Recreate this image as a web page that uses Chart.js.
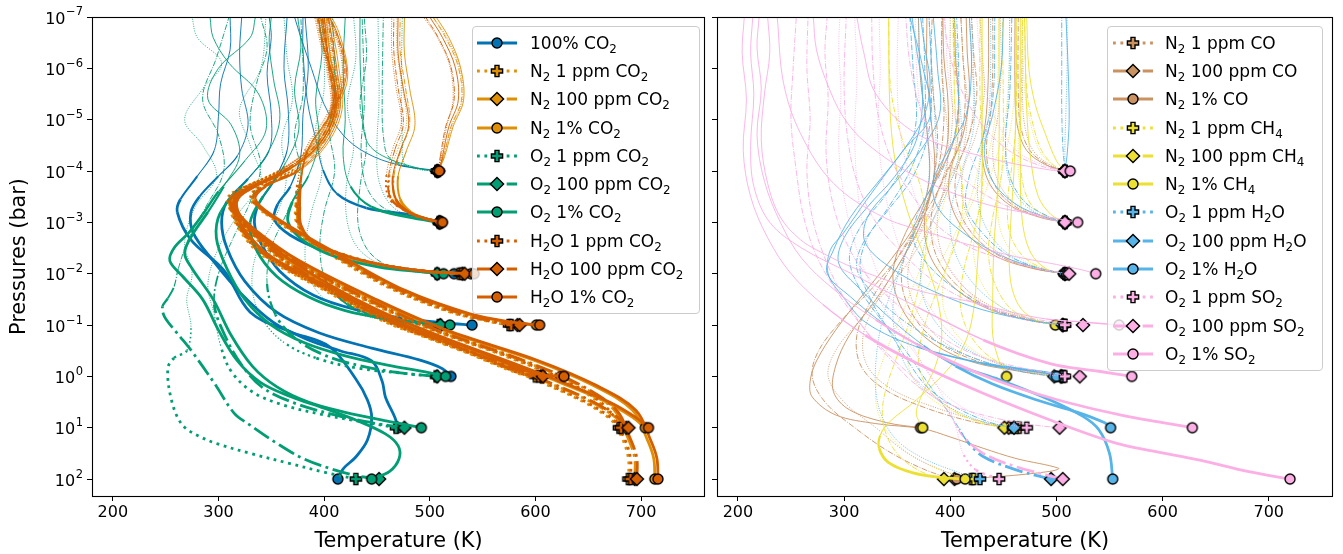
<!DOCTYPE html>
<html>
<head>
<meta charset="utf-8">
<script src="https://cdn.jsdelivr.net/npm/chart.js@4.4.0/dist/chart.umd.min.js"></script>
<style>
  body { margin: 0; background: #fff; width: 1343px; height: 554px; overflow: hidden; position: relative; font-family: "DejaVu Sans", sans-serif; }
  canvas.panel { position: absolute; top: 0; }
  #left { left: 0; }
  #right { left: 711px; }
  .legend { position: absolute; top: 26px; background: rgba(255,255,255,0.8); border: 1px solid #cccccc; border-radius: 4px;
            padding: 1.5px 0; font-size: 17px; color: #000; box-sizing: border-box; }
  .legend .row { height: 28.3px; display: flex; align-items: center; white-space: nowrap; }
  .legend canvas { flex: none; }
  .legend sub { font-size: 70%; vertical-align: -0.3em; line-height: 0; }
</style>
</head>
<body>
<canvas id="left" class="panel" width="711" height="554"></canvas>
<canvas id="right" class="panel" width="632" height="554"></canvas>
<div id="leg1" class="legend" style="left:472px; width:228px;"></div>
<div id="leg2" class="legend" style="left:1107px; width:216px;"></div>
<script>
/**** Temperature / pressure profiles ****/
// every profile: list of [temperature (K), log10 pressure (bar)], starting at the surface

const xTicks = [200, 300, 400, 500, 600, 700];
const yTickExp = [-7, -6, -5, -4, -3, -2, -1, 0, 1, 2];

/** left panel **/
const co2_100 = [
  [[413,2],[418,1.8],[430,1.57],[441,1.24],[445,0.8],[441,0.46],[430,0.05],[405,-0.58],[368,-0.87],[330,-1.25],[305,-2.07],[274,-2.66],[261,-3.2],[264,-3.45],[280,-3.9],[296,-4.4],[300,-5.06],[302,-5.7],[311,-6.36],[311,-7]],
  [[470,1],[467,0.8],[458,0.4],[455,0.1],[445,-0.3],[415,-0.5],[384,-0.72],[352,-1.05],[322,-1.6],[295,-2.25],[276,-2.8],[274,-3.2],[282,-3.5],[300,-3.9],[318,-4.3],[328,-4.9],[322,-5.6],[320,-6.3],[322,-7]],
  [[520,0],[512,-0.15],[490,-0.32],[445,-0.55],[395,-0.85],[355,-1.25],[325,-1.85],[308,-2.5],[303,-3.0],[308,-3.4],[328,-3.85],[348,-4.4],[350,-5.1],[346,-5.9],[350,-6.6],[348,-7]],
  [[540,-1],[515,-1.04],[475,-1.13],[430,-1.3],[390,-1.58],[358,-2.05],[340,-2.6],[334,-3.0],[338,-3.35],[352,-3.8],[365,-4.4],[366,-5.2],[362,-6],[365,-7]],
  [[523,-2],[490,-2.06],[445,-2.2],[400,-2.45],[368,-2.75],[353,-3.05],[356,-3.35],[368,-3.7],[378,-4.3],[380,-5.1],[385,-6],[382,-7]],
  [[510,-3],[480,-3.15],[440,-3.28],[412,-3.56],[399,-4.02],[393,-4.54],[384,-5.38],[380,-6.36],[380,-7]],
  [[508,-4],[470,-4.12],[440,-4.35],[418,-4.7],[400,-5.3],[388,-6],[378,-6.6],[372,-7]]
];
const n2_1ppm = [
  [[688,2],[688,1.6],[682,1.2],[666,0.62],[630,0.12],[576,-0.36],[496,-0.95],[432,-1.55],[361,-2.33],[326,-2.9],[311,-3.25],[309,-3.5],[325,-3.7],[357,-4.0],[387,-4.45],[405,-5.05],[408,-5.75],[398,-6.45],[392,-7]],
  [[679,1],[669,0.8],[646,0.5],[607,0.13],[557,-0.29],[490,-0.82],[429,-1.4],[366,-2.16],[330,-2.8],[315,-3.2],[313,-3.48],[330,-3.73],[365,-4.08],[395,-4.64],[409,-5.34],[403,-6.14],[396,-7]],
  [[600,0],[582,-0.07],[520,-0.59],[460,-1.04],[399,-1.69],[340,-2.38],[319,-2.89],[311,-3.34],[320,-3.63],[357,-3.98],[392,-4.54],[407,-5.24],[403,-6.04],[398,-7]],
  [[575,-1],[556,-1.07],[518,-1.26],[462,-1.72],[402,-2.42],[343,-3.19],[330,-3.48],[340,-3.73],[372,-4.03],[397,-4.54],[412,-5.24],[409,-6.04],[402,-7]],
  [[528,-2],[490,-2.06],[450,-2.19],[414,-2.39],[387,-2.64],[374,-2.99],[373,-3.34],[375,-3.79],[383,-4.42],[403,-5.08],[415,-5.62],[418,-6.07],[410,-6.72],[403,-7]],
  [[509,-3],[492,-3.09],[476,-3.24],[463,-3.49],[462,-3.92],[470,-4.44],[478,-4.94],[474,-5.64],[469,-6.34],[469,-7]],
  [[507,-4],[513,-4.29],[521,-4.87],[531,-5.39],[528,-6.04],[516,-6.61],[503,-7]]
];
const n2_100ppm = [
  [[694,2],[694,1.6],[688,1.22],[674,0.64],[638,0.14],[583,-0.34],[503,-0.92],[438,-1.52],[366,-2.3],[329,-2.88],[313,-3.22],[311,-3.47],[327,-3.67],[359,-3.97],[389,-4.42],[407,-5.02],[410,-5.72],[400,-6.42],[394,-7]],
  [[686,1],[676,0.8],[653,0.5],[614,0.14],[564,-0.27],[496,-0.8],[434,-1.38],[370,-2.14],[333,-2.78],[317,-3.18],[315,-3.46],[332,-3.71],[367,-4.06],[397,-4.62],[411,-5.32],[405,-6.12],[398,-7]],
  [[605,0],[586,-0.06],[526,-0.57],[466,-1.02],[404,-1.67],[344,-2.36],[321,-2.87],[313,-3.32],[322,-3.61],[359,-3.96],[394,-4.52],[409,-5.22],[405,-6.02],[400,-7]],
  [[583,-1],[563,-1.06],[526,-1.24],[468,-1.7],[406,-2.4],[346,-3.17],[332,-3.46],[342,-3.71],[374,-4.01],[399,-4.52],[414,-5.22],[411,-6.02],[404,-7]],
  [[531,-2],[493,-2.05],[453,-2.17],[416,-2.37],[389,-2.62],[376,-2.97],[375,-3.32],[377,-3.77],[385,-4.4],[405,-5.06],[417,-5.6],[420,-6.05],[412,-6.7],[405,-7]],
  [[509,-3],[494,-3.08],[479,-3.22],[467,-3.47],[466,-3.9],[473,-4.42],[481,-4.92],[477,-5.62],[472,-6.32],[472,-7]],
  [[507,-4],[513,-4.28],[520,-4.86],[530,-5.38],[527,-6.03],[515,-6.6],[503,-7]]
];
const n2_1pct = [
  [[713,2],[712,1.6],[706,1.24],[692,0.66],[654,0.17],[598,-0.32],[513,-0.9],[447,-1.49],[372,-2.27],[333,-2.85],[316,-3.2],[314,-3.45],[330,-3.66],[361,-3.97],[391,-4.42],[409,-5.02],[412,-5.72],[402,-6.42],[396,-7]],
  [[704,1],[692,0.8],[667,0.5],[627,0.15],[577,-0.25],[507,-0.78],[442,-1.35],[377,-2.1],[336,-2.75],[318,-3.15],[316,-3.45],[334,-3.7],[369,-4.05],[400,-4.6],[414,-5.3],[407,-6.1],[400,-7]],
  [[624,0],[598,-0.05],[535,-0.55],[473,-1.0],[410,-1.65],[348,-2.33],[323,-2.85],[314,-3.3],[324,-3.6],[361,-3.95],[397,-4.5],[412,-5.2],[407,-6],[402,-7]],
  [[601,-1],[577,-1.05],[535,-1.22],[473,-1.68],[410,-2.38],[348,-3.15],[333,-3.45],[344,-3.7],[376,-4],[402,-4.5],[417,-5.2],[414,-6],[406,-7]],
  [[539,-2],[497,-2.04],[457,-2.15],[417,-2.35],[388,-2.6],[376,-2.95],[375,-3.3],[377,-3.75],[385,-4.4],[406,-5.06],[420,-5.6],[422,-6.03],[414,-6.7],[407,-7]],
  [[511,-3],[495,-3.08],[482,-3.2],[472,-3.45],[470,-3.9],[478,-4.4],[486,-4.9],[481,-5.6],[476,-6.3],[476,-7]],
  [[508,-4],[514,-4.28],[522,-4.86],[532,-5.38],[529,-6.03],[518,-6.6],[506,-7]]
];
const o2_1ppm = [
  [[430,2],[399,1.86],[368,1.7],[330,1.5],[300,1.32],[283,1.18],[266,0.95],[256,0.5],[252,-0.15],[258,-0.36],[270,-0.5],[274,-0.97],[270,-1.5],[275,-2.0],[268,-2.6],[278,-3.3],[298,-3.9],[285,-4.5],[268,-5.0],[285,-5.6],[303,-6.1],[280,-6.6],[275,-7]],
  [[468,1],[440,0.9],[400,0.75],[360,0.55],[332,0.3],[312,-0.1],[302,-0.6],[296,-1.2],[290,-1.8],[300,-2.5],[320,-3.2],[340,-3.8],[330,-4.5],[320,-5.2],[340,-6],[345,-7]],
  [[506,0],[480,-0.05],[432,-0.16],[392,-0.36],[362,-0.66],[342,-1.1],[332,-1.7],[336,-2.4],[354,-3.1],[364,-3.8],[360,-4.6],[370,-5.4],[365,-6.2],[362,-7]],
  [[509,-1],[480,-1.04],[442,-1.16],[406,-1.42],[386,-1.9],[382,-2.5],[388,-3.2],[398,-4],[392,-4.8],[400,-5.6],[398,-7]],
  [[507,-2],[480,-2.05],[452,-2.2],[432,-2.5],[422,-3],[421,-3.7],[428,-4.5],[422,-5.3],[430,-6.2],[428,-7]],
  [[509,-3],[490,-3.08],[465,-3.3],[452,-3.8],[450,-4.5],[452,-5.4],[451,-7]],
  [[507,-4],[490,-4.03],[476,-4.15],[474,-4.6],[473,-5.6],[474,-7]]
];
const o2_100ppm = [
  [[452,2],[430,1.93],[405,1.79],[380,1.6],[355,1.3],[330,0.95],[315,0.72],[296,0.13],[274,-0.51],[261,-0.84],[249,-1.16],[247,-1.36],[252,-1.52],[258,-1.75],[262,-2.1],[272,-2.7],[288,-3.3],[305,-4],[300,-4.7],[285,-5.4],[298,-6.2],[310,-7]],
  [[476,1],[450,0.92],[412,0.76],[372,0.52],[342,0.22],[322,-0.22],[306,-0.8],[296,-1.4],[300,-2],[314,-2.7],[330,-3.4],[340,-4.1],[330,-4.9],[336,-5.7],[346,-6.4],[340,-7]],
  [[507,0],[480,-0.05],[440,-0.18],[402,-0.4],[372,-0.75],[354,-1.2],[346,-1.8],[350,-2.5],[365,-3.2],[378,-3.9],[372,-4.7],[380,-5.5],[378,-7]],
  [[510,-1],[485,-1.04],[450,-1.15],[422,-1.4],[402,-1.85],[396,-2.5],[400,-3.2],[410,-4],[405,-4.8],[410,-5.6],[408,-7]],
  [[507,-2],[482,-2.05],[456,-2.2],[440,-2.5],[432,-3],[434,-3.7],[440,-4.5],[434,-5.3],[440,-6.2],[438,-7]],
  [[509,-3],[485,-3.08],[455,-3.3],[440,-3.7],[435,-4.4],[438,-5.3],[436,-7]],
  [[507,-4],[485,-4.06],[462,-4.25],[456,-4.7],[455,-5.5],[456,-7]]
];
const o2_1pct = [
  [[445,2],[462,1.85],[471,1.6],[470,1.35],[458,1.12],[430,0.85],[400,0.62],[368,0.39],[340,0.12],[318,-0.3],[300,-0.9],[285,-1.5],[266,-1.95],[254,-2.25],[258,-2.5],[272,-2.8],[285,-3.15],[300,-3.6],[325,-4.2],[345,-4.8],[338,-5.5],[310,-6.1],[295,-6.6],[292,-7]],
  [[492,1],[462,0.88],[420,0.7],[385,0.5],[355,0.2],[332,-0.2],[312,-0.8],[295,-1.5],[275,-2.1],[268,-2.4],[275,-2.75],[290,-3.2],[305,-3.7],[320,-4.3],[312,-4.9],[290,-5.4],[300,-6.0],[330,-6.6],[335,-7]],
  [[515,0],[498,-0.08],[460,-0.22],[420,-0.4],[382,-0.65],[350,-1.0],[325,-1.5],[308,-2.1],[298,-2.7],[302,-3.2],[322,-3.7],[345,-4.3],[358,-5],[352,-5.8],[348,-6.5],[350,-7]],
  [[519,-1],[498,-1.03],[460,-1.12],[420,-1.28],[385,-1.55],[355,-1.95],[335,-2.5],[330,-3],[342,-3.5],[362,-4.1],[376,-4.8],[372,-5.6],[378,-6.4],[375,-7]],
  [[513,-2],[490,-2.04],[452,-2.13],[412,-2.32],[382,-2.62],[366,-3],[370,-3.4],[385,-3.9],[395,-4.6],[392,-5.4],[398,-6.3],[395,-7]],
  [[510,-3],[480,-3.1],[445,-3.3],[425,-3.7],[418,-4.3],[420,-5],[418,-6],[420,-7]],
  [[508,-4],[490,-4.05],[455,-4.3],[440,-4.6],[436,-5.3],[434,-6.2],[434,-7]]
];
const h2o_1ppm = [
  [[690,2],[690,1.6],[684,1.2],[668,0.62],[632,0.12],[578,-0.36],[498,-0.95],[434,-1.55],[363,-2.33],[327,-2.9],[312,-3.25],[310,-3.5],[326,-3.7],[356,-4.0],[386,-4.45],[404,-5.05],[407,-5.75],[397,-6.45],[391,-7]],
  [[681,1],[671,0.8],[648,0.5],[609,0.13],[559,-0.29],[492,-0.82],[431,-1.4],[368,-2.16],[331,-2.8],[316,-3.2],[314,-3.48],[331,-3.73],[364,-4.08],[394,-4.64],[408,-5.34],[402,-6.14],[395,-7]],
  [[603,0],[584,-0.07],[522,-0.59],[462,-1.04],[401,-1.69],[342,-2.38],[320,-2.89],[312,-3.34],[321,-3.63],[356,-3.98],[391,-4.54],[406,-5.24],[402,-6.04],[397,-7]],
  [[577,-1],[558,-1.07],[520,-1.26],[464,-1.72],[404,-2.42],[345,-3.19],[331,-3.48],[341,-3.73],[371,-4.03],[396,-4.54],[411,-5.24],[408,-6.04],[401,-7]],
  [[530,-2],[492,-2.06],[452,-2.19],[416,-2.39],[388,-2.64],[375,-2.99],[374,-3.34],[375,-3.79],[382,-4.42],[402,-5.08],[414,-5.62],[417,-6.07],[409,-6.72],[402,-7]],
  [[510,-3],[493,-3.09],[476,-3.24],[461,-3.49],[459,-3.92],[465,-4.44],[473,-4.94],[468,-5.64],[464,-6.34],[464,-7]],
  [[508,-4],[511,-4.29],[516,-4.87],[522,-5.39],[519,-6.04],[507,-6.61],[494,-7]]
];
const h2o_100ppm = [
  [[696,2],[696,1.6],[690,1.22],[676,0.64],[640,0.14],[585,-0.34],[505,-0.92],[440,-1.52],[368,-2.3],[330,-2.88],[314,-3.22],[312,-3.47],[328,-3.67],[358,-3.97],[388,-4.42],[406,-5.02],[409,-5.72],[399,-6.42],[393,-7]],
  [[688,1],[678,0.8],[655,0.5],[616,0.14],[566,-0.27],[498,-0.8],[436,-1.38],[372,-2.14],[334,-2.78],[318,-3.18],[316,-3.46],[333,-3.71],[366,-4.06],[396,-4.62],[410,-5.32],[404,-6.12],[397,-7]],
  [[607,0],[588,-0.06],[528,-0.57],[468,-1.02],[406,-1.67],[345,-2.36],[322,-2.87],[314,-3.32],[323,-3.61],[358,-3.96],[393,-4.52],[408,-5.22],[404,-6.02],[399,-7]],
  [[585,-1],[565,-1.06],[528,-1.24],[470,-1.7],[408,-2.4],[347,-3.17],[333,-3.46],[343,-3.71],[373,-4.01],[398,-4.52],[413,-5.22],[410,-6.02],[403,-7]],
  [[533,-2],[495,-2.05],[455,-2.17],[418,-2.37],[390,-2.62],[377,-2.97],[376,-3.32],[377,-3.77],[384,-4.4],[404,-5.06],[416,-5.6],[419,-6.05],[411,-6.7],[404,-7]],
  [[510,-3],[494,-3.08],[478,-3.22],[463,-3.47],[461,-3.9],[467,-4.42],[475,-4.92],[470,-5.62],[466,-6.32],[466,-7]],
  [[508,-4],[510,-4.28],[515,-4.86],[523,-5.38],[520,-6.03],[508,-6.6],[496,-7]]
];
const h2o_1pct = [
  [[716,2],[715,1.6],[709,1.24],[695,0.66],[657,0.17],[601,-0.32],[516,-0.9],[450,-1.49],[375,-2.27],[335,-2.85],[318,-3.2],[315,-3.45],[330,-3.65],[360,-3.95],[390,-4.4],[408,-5],[410,-5.7],[400,-6.4],[394,-7]],
  [[707,1],[695,0.8],[670,0.5],[630,0.15],[580,-0.25],[510,-0.78],[445,-1.35],[380,-2.1],[338,-2.75],[320,-3.15],[318,-3.45],[335,-3.7],[368,-4.05],[398,-4.6],[412,-5.3],[405,-6.1],[398,-7]],
  [[627,0],[601,-0.05],[538,-0.55],[476,-1.0],[413,-1.65],[350,-2.33],[325,-2.85],[316,-3.3],[325,-3.6],[360,-3.95],[395,-4.5],[410,-5.2],[405,-6],[400,-7]],
  [[604,-1],[580,-1.05],[538,-1.22],[476,-1.68],[413,-2.38],[350,-3.15],[335,-3.45],[345,-3.7],[375,-4],[400,-4.5],[415,-5.2],[412,-6],[404,-7]],
  [[542,-2],[500,-2.04],[460,-2.15],[420,-2.35],[390,-2.6],[378,-2.95],[377,-3.3],[378,-3.75],[384,-4.4],[405,-5.06],[418,-5.6],[421,-6.03],[412,-6.7],[405,-7]],
  [[512,-3],[495,-3.08],[480,-3.2],[468,-3.45],[465,-3.9],[472,-4.4],[480,-4.9],[475,-5.6],[470,-6.3],[470,-7]],
  [[509,-4],[512,-4.28],[518,-4.86],[527,-5.38],[524,-6.03],[512,-6.6],[500,-7]]
];

/** right panel **/
const co_1ppm = [
  [[420,2],[395,1.85],[360,1.5],[330,1.0],[300,0.5],[285,0.0],[292,-0.5],[315,-1.1],[345,-1.8],[372,-2.6],[392,-3.5],[398,-4.5],[394,-5.5],[392,-6.3],[393,-7]],
  [[465,1],[430,0.88],[385,0.6],[345,0.25],[322,-0.2],[318,-0.8],[332,-1.5],[355,-2.3],[378,-3.1],[395,-4],[402,-5],[400,-6],[400,-7]],
  [[507,0],[475,-0.1],[430,-0.3],[392,-0.7],[368,-1.3],[360,-2],[372,-2.8],[395,-3.6],[412,-4.4],[416,-5.3],[412,-6.2],[410,-7]],
  [[508,-1],[478,-1.1],[440,-1.35],[410,-1.8],[392,-2.4],[388,-3.1],[398,-3.8],[415,-4.5],[422,-5.3],[420,-6.2],[418,-7]],
  [[509,-2],[482,-2.1],[450,-2.35],[425,-2.8],[412,-3.4],[412,-4],[424,-4.7],[432,-5.5],[430,-6.3],[428,-7]],
  [[508,-3],[488,-3.1],[462,-3.35],[445,-3.8],[440,-4.4],[445,-5.1],[448,-6],[447,-7]],
  [[508,-4],[494,-4.12],[478,-4.4],[470,-4.9],[468,-5.6],[468,-7]]
];
const co_100ppm = [
  [[404,2],[380,1.85],[345,1.5],[310,1.0],[282,0.5],[270,0.0],[276,-0.5],[298,-1.1],[330,-1.8],[360,-2.6],[380,-3.5],[388,-4.5],[384,-5.5],[382,-6.3],[383,-7]],
  [[455,1],[420,0.88],[375,0.6],[338,0.25],[316,-0.2],[312,-0.8],[326,-1.5],[350,-2.3],[372,-3.1],[388,-4],[394,-5],[392,-6],[392,-7]],
  [[504,0],[470,-0.1],[425,-0.3],[386,-0.7],[362,-1.3],[354,-2],[366,-2.8],[388,-3.6],[405,-4.4],[408,-5.3],[404,-6.2],[403,-7]],
  [[506,-1],[475,-1.1],[436,-1.35],[405,-1.8],[386,-2.4],[382,-3.1],[392,-3.8],[408,-4.5],[414,-5.3],[412,-6.2],[410,-7]],
  [[508,-2],[480,-2.1],[446,-2.35],[420,-2.8],[406,-3.4],[406,-4],[418,-4.7],[425,-5.5],[422,-6.3],[420,-7]],
  [[508,-3],[486,-3.1],[458,-3.35],[440,-3.8],[434,-4.4],[438,-5.1],[440,-6],[440,-7]],
  [[508,-4],[492,-4.12],[475,-4.4],[466,-4.9],[464,-5.6],[464,-7]]
];
const co_1pct = [
  [[406,2],[447,1.95],[494,1.85],[502,1.79],[462,1.6],[431,1.4],[400,1.18],[374,1.02],[330,0.92],[292,0.75],[270,0.4],[268,0.1],[274,-0.3],[292,-0.9],[318,-1.6],[345,-2.3],[368,-3],[380,-3.8],[378,-4.8],[372,-5.8],[370,-7]],
  [[372,1],[340,0.9],[305,0.65],[290,0.3],[292,-0.2],[305,-0.8],[330,-1.5],[355,-2.3],[375,-3.1],[385,-4],[382,-5],[378,-6],[378,-7]],
  [[500,0],[465,-0.1],[418,-0.3],[380,-0.7],[355,-1.3],[346,-2],[358,-2.8],[380,-3.6],[396,-4.4],[398,-5.3],[394,-6.2],[393,-7]],
  [[506,-1],[472,-1.1],[432,-1.35],[400,-1.8],[380,-2.4],[376,-3.1],[386,-3.8],[402,-4.5],[408,-5.3],[405,-6.2],[404,-7]],
  [[508,-2],[478,-2.1],[442,-2.35],[415,-2.8],[400,-3.4],[400,-4],[412,-4.7],[418,-5.5],[416,-6.3],[415,-7]],
  [[508,-3],[484,-3.1],[455,-3.35],[436,-3.8],[430,-4.4],[434,-5.1],[436,-6],[436,-7]],
  [[508,-4],[490,-4.12],[472,-4.4],[463,-4.9],[461,-5.6],[461,-7]]
];
const ch4_1ppm = [
  [[422,2],[398,1.88],[368,1.6],[345,1.2],[332,0.7],[330,0.2],[338,-0.4],[352,-1.1],[368,-1.9],[385,-2.8],[398,-3.7],[405,-4.6],[404,-5.6],[402,-7]],
  [[462,1],[432,0.9],[396,0.62],[370,0.2],[360,-0.3],[364,-1],[380,-1.8],[400,-2.6],[418,-3.4],[428,-4.3],[430,-5.4],[429,-7]],
  [[506,0],[478,-0.08],[440,-0.3],[410,-0.72],[394,-1.3],[395,-2],[408,-2.8],[425,-3.6],[438,-4.5],[444,-5.5],[446,-7]],
  [[507,-1],[480,-1.08],[450,-1.32],[430,-1.8],[422,-2.4],[426,-3.1],[438,-3.9],[450,-4.8],[455,-5.8],[456,-7]],
  [[508,-2],[486,-2.1],[462,-2.35],[448,-2.8],[445,-3.4],[450,-4.1],[458,-5],[462,-6],[462,-7]],
  [[508,-3],[490,-3.1],[472,-3.35],[465,-3.8],[464,-4.5],[466,-5.5],[467,-7]],
  [[508,-4],[496,-4.12],[484,-4.4],[476,-4.9],[470,-5.6],[468,-7]]
];
const ch4_100ppm = [
  [[394,2],[372,1.85],[352,1.55],[340,1.15],[336,0.7],[340,0.2],[350,-0.4],[362,-1.1],[372,-1.9],[378,-2.8],[372,-3.7],[355,-4.6],[344,-5.6],[342,-7]],
  [[451,1],[428,0.9],[398,0.6],[378,0.2],[370,-0.3],[376,-1],[390,-1.8],[405,-2.6],[412,-3.4],[408,-4.3],[404,-5.4],[404,-7]],
  [[505,0],[478,-0.08],[445,-0.28],[422,-0.7],[410,-1.3],[412,-2],[422,-2.8],[430,-3.6],[430,-4.5],[428,-5.5],[428,-7]],
  [[506,-1],[483,-1.08],[458,-1.3],[442,-1.8],[436,-2.4],[440,-3.1],[448,-3.9],[450,-4.8],[449,-7]],
  [[508,-2],[488,-2.1],[468,-2.35],[456,-2.8],[454,-3.4],[458,-4.1],[462,-5],[462,-7]],
  [[508,-3],[492,-3.1],[476,-3.35],[468,-3.8],[466,-4.5],[467,-5.5],[468,-7]],
  [[508,-4],[497,-4.12],[486,-4.4],[478,-4.9],[472,-5.6],[470,-7]]
];
const ch4_1pct = [
  [[414,2],[392,1.97],[365,1.88],[342,1.68],[333,1.4],[334,1.15],[342,0.9],[368,0.46],[400,-0.19],[415,-0.71],[422,-1.3],[425,-2],[428,-3],[430,-4],[430,-5],[430,-6],[430,-7]],
  [[374,1],[368,0.72],[374,0.33],[386,-0.2],[392,-0.8],[388,-1.5],[376,-2.3],[360,-3.2],[348,-4.2],[343,-5.3],[342,-7]],
  [[453,0],[446,-0.3],[440,-0.8],[440,-1.5],[441,-2.5],[444,-3.4],[446,-4.6],[446,-5.8],[446,-7]],
  [[499,-1],[480,-1.1],[464,-1.4],[456,-2],[457,-3],[460,-4],[462,-5.5],[462,-7]],
  [[507,-2],[490,-2.1],[476,-2.4],[468,-3],[466,-4],[466,-7]],
  [[508,-3],[495,-3.15],[483,-3.5],[476,-4.2],[472,-5.2],[470,-7]],
  [[508,-4],[500,-4.2],[490,-4.7],[480,-5.3],[474,-6],[472,-7]]
];
const wat_1ppm = [
  [[428,2],[405,1.85],[375,1.6],[350,1.25],[336,0.8],[330,0.3],[330,-0.3],[335,-1],[345,-1.7],[358,-2.4],[372,-3.1],[380,-3.9],[378,-4.8],[372,-5.8],[370,-7]],
  [[459,1],[430,0.88],[395,0.55],[368,0.1],[352,-0.5],[346,-1.2],[350,-1.9],[362,-2.6],[376,-3.3],[386,-4.1],[385,-5.2],[382,-6.2],[380,-7]],
  [[506,0],[476,-0.1],[436,-0.32],[400,-0.75],[378,-1.35],[372,-2.05],[380,-2.85],[398,-3.65],[410,-4.55],[408,-5.6],[404,-7]],
  [[507,-1],[478,-1.1],[446,-1.38],[420,-1.85],[404,-2.45],[400,-3.15],[410,-3.95],[422,-4.85],[422,-5.9],[420,-7]],
  [[508,-2],[483,-2.1],[455,-2.38],[435,-2.85],[426,-3.45],[428,-4.15],[436,-5.05],[438,-6],[438,-7]],
  [[508,-3],[489,-3.1],[468,-3.38],[455,-3.85],[452,-4.55],[455,-5.55],[456,-7]],
  [[508,-4],[508,-4.5],[509,-5.2],[510,-6],[510,-7]]
];
const wat_100ppm = [
  [[495,2],[462,1.82],[431,1.56],[415,1.24],[408,1.0],[395,0.6],[378,0.1],[358,-0.5],[335,-1.1],[315,-1.7],[305,-2.3],[315,-2.9],[338,-3.5],[358,-4.2],[368,-5],[365,-6],[362,-7]],
  [[460,1],[438,0.9],[405,0.6],[378,0.2],[360,-0.3],[342,-0.9],[325,-1.5],[315,-2.1],[322,-2.7],[342,-3.3],[362,-4],[375,-4.8],[376,-6],[374,-7]],
  [[498,0],[470,-0.08],[430,-0.3],[390,-0.65],[355,-1.1],[328,-1.6],[312,-2.1],[318,-2.6],[340,-3.2],[365,-3.9],[380,-4.8],[382,-6],[380,-7]],
  [[506,-1],[478,-1.08],[440,-1.3],[405,-1.7],[378,-2.2],[365,-2.7],[372,-3.3],[392,-4],[405,-4.8],[408,-5.8],[406,-7]],
  [[508,-2],[485,-2.1],[455,-2.35],[430,-2.8],[415,-3.3],[418,-3.9],[430,-4.6],[440,-5.4],[442,-7]],
  [[508,-3],[492,-3.12],[470,-3.4],[456,-3.9],[452,-4.6],[456,-5.5],[458,-7]],
  [[508,-4],[506,-4.5],[505,-5.2],[505,-6],[505,-7]]
];
const wat_1pct = [
  [[553,2],[550,1.5],[540,1.04],[525,0.78],[494,0.46],[447,0.07],[406,-0.22],[368,-0.64],[337,-1.03],[306,-1.55],[284,-2.01],[290,-2.46],[306,-3.1],[331,-3.76],[356,-4.41],[375,-5.06],[381,-5.71],[376,-6.4],[372,-7]],
  [[551,1],[545,0.9],[520,0.7],[480,0.45],[440,0.15],[405,-0.2],[375,-0.6],[345,-1.1],[315,-1.7],[295,-2.2],[300,-2.7],[322,-3.3],[348,-3.9],[368,-4.6],[374,-5.5],[368,-6.4],[364,-7]],
  [[500,0],[494,-0.06],[431,-0.25],[368,-0.58],[321,-1.04],[299,-1.55],[285,-2.0],[287,-2.46],[299,-2.78],[321,-3.43],[356,-4.41],[381,-5.06],[374,-6.03],[362,-7]],
  [[507,-1],[478,-1.08],[430,-1.3],[385,-1.65],[345,-2.1],[320,-2.6],[322,-3.1],[345,-3.7],[372,-4.4],[390,-5.1],[388,-6],[384,-7]],
  [[510,-2],[484,-2.1],[448,-2.35],[412,-2.8],[388,-3.3],[384,-3.8],[398,-4.4],[415,-5.1],[420,-6],[418,-7]],
  [[508,-3],[490,-3.1],[462,-3.35],[440,-3.8],[432,-4.4],[440,-5.1],[448,-6],[450,-7]],
  [[508,-4],[510,-4.3],[512,-5],[511,-6],[509,-7]]
];
const so2_1ppm = [
  [[446,2],[424,1.82],[412,1.5],[406,1.04],[398,0.6],[385,0.1],[365,-0.5],[345,-1.1],[325,-1.8],[310,-2.6],[300,-3.5],[295,-4.5],[297,-5.5],[295,-6.4],[296,-7]],
  [[472,1],[450,0.92],[420,0.7],[395,0.35],[378,-0.1],[362,-0.7],[345,-1.4],[330,-2.1],[318,-2.9],[312,-3.8],[310,-4.8],[312,-5.8],[310,-7]],
  [[508,0],[485,-0.05],[450,-0.2],[420,-0.5],[395,-0.95],[375,-1.55],[358,-2.2],[345,-3],[336,-3.9],[332,-4.9],[334,-5.9],[333,-7]],
  [[508,-1],[485,-1.05],[452,-1.2],[425,-1.5],[405,-1.95],[388,-2.5],[372,-3.2],[360,-4],[352,-4.9],[350,-5.9],[351,-7]],
  [[510,-2],[488,-2.07],[458,-2.25],[432,-2.55],[412,-3],[395,-3.6],[382,-4.3],[372,-5.2],[368,-6.1],[367,-7]],
  [[508,-3],[488,-3.1],[460,-3.35],[435,-3.75],[418,-4.3],[405,-5],[398,-5.9],[395,-7]],
  [[508,-4],[490,-4.1],[465,-4.35],[448,-4.8],[436,-5.4],[428,-6.2],[425,-7]]
];
const so2_100ppm = [
  [[506,2],[462,1.76],[431,1.5],[412,1.17],[406,0.98],[395,0.6],[375,0.2],[348,-0.3],[320,-0.9],[295,-1.6],[275,-2.3],[262,-3.1],[255,-4],[250,-5],[252,-6],[255,-7]],
  [[503,1],[480,0.95],[440,0.8],[400,0.55],[370,0.2],[345,-0.3],[320,-0.9],[298,-1.6],[282,-2.3],[270,-3.1],[265,-4],[268,-5],[265,-6],[266,-7]],
  [[522,0],[500,-0.05],[460,-0.2],[420,-0.45],[385,-0.85],[350,-1.4],[320,-2],[300,-2.7],[288,-3.5],[283,-4.4],[285,-5.4],[282,-6.3],[284,-7]],
  [[525,-1],[500,-1.05],[460,-1.2],[420,-1.45],[385,-1.85],[355,-2.4],[330,-3],[312,-3.8],[303,-4.7],[300,-5.7],[302,-7]],
  [[512,-2],[490,-2.07],[455,-2.25],[420,-2.5],[390,-2.9],[365,-3.5],[345,-4.2],[332,-5.1],[327,-6.1],[326,-7]],
  [[508,-3],[485,-3.1],[450,-3.35],[415,-3.8],[390,-4.4],[372,-5.2],[362,-6.1],[358,-7]],
  [[508,-4],[485,-4.1],[455,-4.4],[430,-4.9],[410,-5.6],[398,-6.4],[394,-7]]
];
const so2_1pct = [
  [[720,2],[680,1.85],[635,1.63],[590,1.45],[556,1.3],[494,0.85],[431,0.33],[368,-0.26],[320,-0.8],[280,-1.4],[250,-2],[228,-2.7],[212,-3.5],[205,-4.4],[208,-5.4],[204,-6.3],[206,-7]],
  [[628,1],[600,0.9],[560,0.75],[500,0.45],[440,0.05],[380,-0.5],[330,-1.1],[290,-1.7],[260,-2.3],[240,-3],[225,-3.8],[218,-4.7],[222,-5.6],[218,-6.4],[220,-7]],
  [[571,0],[540,-0.1],[494,-0.25],[431,-0.71],[368,-1.36],[306,-2.01],[260,-2.5],[230,-3],[215,-3.7],[212,-4.5],[215,-5.5],[212,-6.3],[214,-7]],
  [[559,-1],[530,-1.05],[490,-1.12],[462,-1.23],[420,-1.45],[368,-1.68],[330,-1.95],[306,-2.14],[280,-2.4],[259,-2.66],[240,-3.1],[228,-3.76],[222,-4.6],[225,-5.5],[230,-6.3],[228,-7]],
  [[537,-2],[525,-2.07],[500,-2.18],[462,-2.33],[420,-2.55],[380,-2.8],[337,-3.1],[290,-3.76],[259,-4.73],[243,-5.71],[237,-7]],
  [[520,-3],[494,-3.1],[431,-3.37],[368,-3.89],[321,-4.54],[299,-5.06],[284,-5.71],[274,-6.36],[271,-7]],
  [[513,-4],[494,-4.02],[431,-4.28],[368,-4.73],[330,-5.5],[318,-6.36],[312,-7]]
];

/** series styles: colour, line style, marker, pressure range where the line thins out **/
const leftSeries = [
  {label: '100% CO<sub>2</sub>', data: co2_100, color: '#0173B2', ls: '-', mk: 'o', thin: [-4.2, -3.3]},
  {label: 'N<sub>2</sub> 1 ppm CO<sub>2</sub>', data: n2_1ppm, color: '#DE8F05', ls: ':', mk: 'P', thin: [-4.2, -3.3]},
  {label: 'N<sub>2</sub> 100 ppm CO<sub>2</sub>', data: n2_100ppm, color: '#DE8F05', ls: '-.', mk: 'D', thin: [-4.2, -3.3]},
  {label: 'N<sub>2</sub> 1% CO<sub>2</sub>', data: n2_1pct, color: '#DE8F05', ls: '-', mk: 'o', thin: [-4.2, -3.3]},
  {label: 'O<sub>2</sub> 1 ppm CO<sub>2</sub>', data: o2_1ppm, color: '#029E73', ls: ':', mk: 'P', thin: [-1.0, -0.3]},
  {label: 'O<sub>2</sub> 100 ppm CO<sub>2</sub>', data: o2_100ppm, color: '#029E73', ls: '-.', mk: 'D', thin: [-2.0, -1.3]},
  {label: 'O<sub>2</sub> 1% CO<sub>2</sub>', data: o2_1pct, color: '#029E73', ls: '-', mk: 'o', thin: [-4.0, -3.2]},
  {label: 'H<sub>2</sub>O 1 ppm CO<sub>2</sub>', data: h2o_1ppm, color: '#D55E00', ls: ':', mk: 'P', thin: [-4.2, -3.3]},
  {label: 'H<sub>2</sub>O 100 ppm CO<sub>2</sub>', data: h2o_100ppm, color: '#D55E00', ls: '-.', mk: 'D', thin: [-4.2, -3.3]},
  {label: 'H<sub>2</sub>O 1% CO<sub>2</sub>', data: h2o_1pct, color: '#D55E00', ls: '-', mk: 'o', thin: [-4.2, -3.3]}
];
const rightSeries = [
  {label: 'N<sub>2</sub> 1 ppm CO', data: co_1ppm, color: '#CA9161', ls: ':', mk: 'P', thin: [2.5, 3]},
  {label: 'N<sub>2</sub> 100 ppm CO', data: co_100ppm, color: '#CA9161', ls: '-.', mk: 'D', thin: [2.5, 3]},
  {label: 'N<sub>2</sub> 1% CO', data: co_1pct, color: '#CA9161', ls: '-', mk: 'o', thin: [2.5, 3]},
  {label: 'N<sub>2</sub> 1 ppm CH<sub>4</sub>', data: ch4_1ppm, color: '#ECE133', ls: ':', mk: 'P', thin: [2.5, 3]},
  {label: 'N<sub>2</sub> 100 ppm CH<sub>4</sub>', data: ch4_100ppm, color: '#ECE133', ls: '-.', mk: 'D', thin: [2.5, 3]},
  {label: 'N<sub>2</sub> 1% CH<sub>4</sub>', data: ch4_1pct, color: '#ECE133', ls: '-', mk: 'o', thin: [1.0, 1.4]},
  {label: 'O<sub>2</sub> 1 ppm H<sub>2</sub>O', data: wat_1ppm, color: '#56B4E9', ls: ':', mk: 'P', thin: [2.5, 3]},
  {label: 'O<sub>2</sub> 100 ppm H<sub>2</sub>O', data: wat_100ppm, color: '#56B4E9', ls: '-.', mk: 'D', thin: [1.0, 1.4]},
  {label: 'O<sub>2</sub> 1% H<sub>2</sub>O', data: wat_1pct, color: '#56B4E9', ls: '-', mk: 'o', thin: [-0.6, -0.1]},
  {label: 'O<sub>2</sub> 1 ppm SO<sub>2</sub>', data: so2_1ppm, color: '#FBAFE4', ls: ':', mk: 'P', thin: [1.4, 1.8]},
  {label: 'O<sub>2</sub> 100 ppm SO<sub>2</sub>', data: so2_100ppm, color: '#FBAFE4', ls: '-.', mk: 'D', thin: [1.0, 1.4]},
  {label: 'O<sub>2</sub> 1% SO<sub>2</sub>', data: so2_1pct, color: '#FBAFE4', ls: '-', mk: 'o', thin: [-1.2, -0.6]}
];

const FONT = 'DejaVu Sans';

function dashOf(ls, w) {
  if (ls === ':') return [w, 1.65 * w];
  if (ls === '-.') return [6.4 * w, 1.6 * w, w, 1.6 * w];
  return [];
}

function widthAt(lp, thin) {
  let f = (lp - thin[0]) / (thin[1] - thin[0]);
  f = Math.max(0, Math.min(1, f));
  return 0.9 + 1.9 * f;
}

// marker glyphs, coloured with a black edge
function markerCanvas(shape, color) {
  const c = document.createElement('canvas');
  c.width = 18; c.height = 18;
  const g = c.getContext('2d');
  g.translate(9, 9);
  g.fillStyle = color;
  g.strokeStyle = '#000';
  g.lineWidth = 1.4;
  g.beginPath();
  if (shape === 'o') {
    g.arc(0, 0, 5, 0, 2 * Math.PI);
  } else if (shape === 'D') {
    const r = 6.6;
    g.moveTo(0, -r); g.lineTo(r, 0); g.lineTo(0, r); g.lineTo(-r, 0); g.closePath();
  } else {
    const a = 5.6, b = 2.0;
    const pts = [[-b,-a],[b,-a],[b,-b],[a,-b],[a,b],[b,b],[b,a],[-b,a],[-b,b],[-a,b],[-a,-b],[-b,-b]];
    g.moveTo(pts[0][0], pts[0][1]);
    pts.slice(1).forEach(p => g.lineTo(p[0], p[1]));
    g.closePath();
  }
  g.fill();
  g.stroke();
  return c;
}

function buildDatasets(series) {
  const sets = [];
  const total = series.reduce((a, s) => a + s.data.length, 0);
  let n = 0;
  series.forEach(s => {
    const mk = markerCanvas(s.mk, s.color);
    s.data.forEach(prof => {
      const pts = prof.map(p => ({x: p[0], y: Math.pow(10, p[1])}));
      const segW = c => widthAt((prof[c.p0DataIndex][1] + prof[c.p1DataIndex][1]) / 2, s.thin);
      sets.push({
        data: pts,
        borderColor: s.color,
        backgroundColor: s.color,
        borderWidth: 1,
        fill: false,
        tension: 0.35,
        borderJoinStyle: 'round',
        pointStyle: mk,
        pointRadius: c => c.dataIndex === 0 ? 5 : 0,
        order: total - n,
        segment: {
          borderWidth: segW,
          borderDash: c => dashOf(s.ls, segW(c))
        }
      });
      n++;
    });
  });
  return sets;
}

// box round the plot area
const frame = {
  id: 'frame',
  afterDraw(chart) {
    const {ctx, chartArea: a} = chart;
    ctx.save();
    ctx.strokeStyle = '#000';
    ctx.lineWidth = 1.1;
    ctx.strokeRect(Math.round(a.left) + 0.5, Math.round(a.top) + 0.5, Math.round(a.right - a.left) - 1, Math.round(a.bottom - a.top));
    ctx.restore();
  }
};

// "10" with a raised, smaller exponent, like the mathtext tick labels
const powTicks = {
  id: 'powTicks',
  afterDraw(chart, args, opts) {
    if (!opts.show) return;
    const {ctx, scales: {y}} = chart;
    const xr = y.right - 5 - 4;
    ctx.save();
    ctx.fillStyle = '#000';
    ctx.textBaseline = 'middle';
    ctx.textAlign = 'left';
    yTickExp.forEach(e => {
      const py = y.getPixelForValue(Math.pow(10, e));
      const ex = e < 0 ? '\u2212' + (-e) : String(e);
      ctx.font = '11.5px "' + FONT + '"';
      const we = ctx.measureText(ex).width;
      ctx.font = '16px "' + FONT + '"';
      const wb = ctx.measureText('10').width;
      ctx.fillText('10', xr - we - wb - 0.5, py + 2.5);
      ctx.font = '11.5px "' + FONT + '"';
      ctx.fillText(ex, xr - we, py - 4.5);
    });
    ctx.restore();
  }
};

function makeChart(id, series, yWidth, padRight, showYLabels) {
  return new Chart(document.getElementById(id), {
    type: 'line',
    data: {datasets: buildDatasets(series)},
    options: {
      responsive: false,
      animation: false,
      devicePixelRatio: 1,
      events: [],
      layout: {padding: {top: 17, right: padRight, left: 0, bottom: 0}},
      plugins: {legend: {display: false}, tooltip: {enabled: false}, powTicks: {show: showYLabels}},
      scales: {
        x: {
          type: 'linear', min: 180.3, max: 760.5,
          afterBuildTicks: sc => { sc.ticks = xTicks.map(v => ({value: v})); },
          afterFit: sc => { sc.height = 58; },
          ticks: {color: '#000', font: {family: FONT, size: 16}, padding: 2, maxRotation: 0, autoSkip: false, callback: v => String(v)},
          grid: {drawOnChartArea: false, tickLength: 5, color: '#000', tickColor: '#000'},
          border: {display: false},
          title: {display: true, text: 'Temperature (K)', color: '#000', font: {family: FONT, size: 20.8}, padding: {top: 0, bottom: 0}}
        },
        y: {
          type: 'logarithmic', reverse: true, min: 1e-7, max: 213.8,
          afterBuildTicks: sc => { sc.ticks = yTickExp.map(e => ({value: Math.pow(10, e)})); },
          afterFit: sc => { sc.width = yWidth; },
          ticks: {color: '#000', font: {family: FONT, size: 16}, padding: 3, autoSkip: false, callback: () => ''},
          grid: {drawOnChartArea: false, tickLength: 5, color: '#000', tickColor: '#000'},
          border: {display: false},
          title: {display: showYLabels, text: 'Pressures (bar)', color: '#000', font: {family: FONT, size: 20.8}, padding: {top: 7, bottom: 0}}
        }
      }
    },
    plugins: [frame, powTicks]
  });
}

makeChart('left', leftSeries, 92, 1, true);
makeChart('right', rightSeries, 5, 10, false);

/** legends **/
function fillLegend(id, series, handleLeft, gap) {
  const box = document.getElementById(id);
  series.forEach(s => {
    const row = document.createElement('div');
    row.className = 'row';
    const cv = document.createElement('canvas');
    cv.width = 40; cv.height = 20;
    cv.style.marginLeft = handleLeft + 'px';
    cv.style.marginRight = gap + 'px';
    const g = cv.getContext('2d');
    const w = 2.8;
    g.strokeStyle = s.color;
    g.lineWidth = w;
    g.setLineDash(dashOf(s.ls, w));
    g.beginPath(); g.moveTo(0, 10); g.lineTo(40, 10); g.stroke();
    g.setLineDash([]);
    const mk = markerCanvas(s.mk, s.color);
    g.drawImage(mk, 20 - mk.width / 2, 10 - mk.height / 2);
    const txt = document.createElement('span');
    txt.innerHTML = s.label;
    row.appendChild(cv);
    row.appendChild(txt);
    box.appendChild(row);
  });
}
fillLegend('leg1', leftSeries, 4, 13);
fillLegend('leg2', rightSeries, 5, 12);
</script>
</body>
</html>
